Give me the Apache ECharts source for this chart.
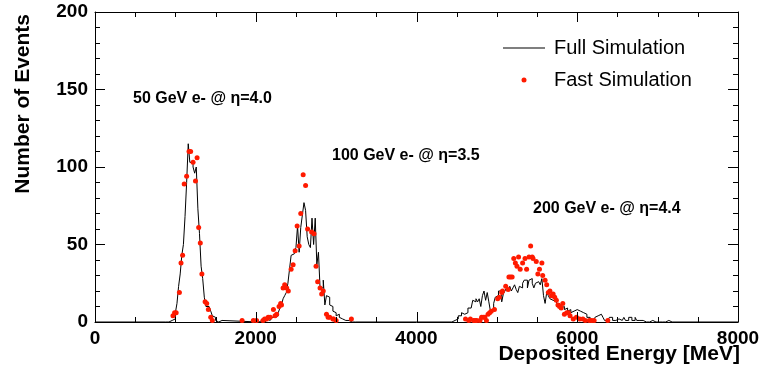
<!DOCTYPE html>
<html><head><meta charset="utf-8">
<script src="https://cdn.jsdelivr.net/npm/echarts@6/dist/echarts.min.js"></script>
<style>html,body{margin:0;padding:0;background:#fff}#c{width:763px;height:372px}</style>
</head><body><div id="c"></div>
<script>
// ---- data ----
const binWidth = 20; // MeV
const fullStart1 = 880;
const fullCounts1 = [0,0,0,1,1,2, 6,12,23,31,43,50,68,90,115,103,103,100,96,100,73,57,36,28,16,10,10,9,7,4,3,1,0,1,1,0];
const fullStart2 = 2040;
const fullCounts2 = [0,1,1,0,1,2,1,2,3,3, 2,4,6,9,11,15,17,19,25,34, 43,44,46,48,62,45,61,69,77,72, 55,50,48,67,50,67,37,45,22,22, 27,11,17,16,11,10,7,6,4,5, 3,2,2,1,2,1,1,0,1,0];
const fullStart3 = 4440;
const fullCounts3 = [1,1,2,2,4,4,6,5,6,6, 9,9,9,14,13,15,13,15,10,17, 20,14,19,13,7,8,12,16,17,20, 20,13,18,20,22,21,23,20,22,24,
  21,19,23,22,25,27,27,22,27,28, 25,22,25,26,25,24,28,17,12,19, 17,15,14,14,13,
  12,10,12,9,10,8,9,7,8,6, 7,8,8,7,7,6,6,5,5,3, 3,1,1,1,3,4,5,5,5,3, 1,1,1,3,3,1,1,1,2,3,
  1,1,3,1,1,3,3,1,1,3, 1,1,2,1,1,0,1,0,1,1, 0,0,1,0,1,0,1,0,1,1, 0,0];

const fastE1 = [970, 990, 1010, 1050, 1070, 1090, 1110, 1140, 1170, 1190, 1220, 1250, 1270, 1290, 1310, 1330, 1370, 1390, 1410, 1440, 1460, 1830];
const fastN1 = [4, 6, 6, 19, 38, 43, 89, 94, 110, 110, 103, 91, 106, 61, 51, 31, 13, 12, 8, 3, 1, 1];
const fastE2 = [1970, 2010, 2090, 2110, 2135, 2155, 2180, 2220, 2240, 2260, 2290, 2310, 2320, 2340, 2360, 2385, 2405, 2440, 2465, 2490, 2515, 2540, 2560, 2590, 2620, 2645, 2695, 2725, 2750, 2770, 2800, 2820, 2840, 2880, 2900, 2920, 2960, 2970, 3000, 3190];
const fastN2 = [1, 1, 1, 2, 2, 3, 3, 8, 4, 5, 10, 12, 11, 22, 24, 22, 20, 34, 37, 46, 62, 49, 70, 95, 88, 60, 58, 57, 36, 26, 22, 18, 20, 5, 3, 3, 2, 2, 1, 2];
const fastE3 = [4610, 4650, 4670, 4710, 4730, 4750, 4790, 4810, 4830, 4850, 4870, 4890, 4910, 4930, 4970, 5010, 5030, 5060, 5070, 5110, 5140, 5150, 5170, 5190, 5210, 5230, 5250, 5270, 5290, 5320, 5350, 5370, 5400, 5420, 5440, 5450, 5490, 5510, 5530, 5560, 5570, 5600, 5620, 5640, 5660, 5680, 5700, 5720, 5740, 5760, 5780, 5800, 5820, 5840, 5870, 5890, 5910, 5950, 5990, 6030, 6070, 6100, 6150, 6180, 6210, 6380];
const fastN3 = [2, 1, 2, 1, 1, 1, 1, 3, 3, 3, 1, 5, 6, 7, 8, 15, 16, 19, 20, 23, 21, 29, 29, 29, 41, 38, 36, 42, 34, 38, 41, 34, 42, 49, 42, 41, 39, 31, 34, 38, 30, 27, 24, 19, 20, 17, 18, 16, 14, 11, 10, 9, 12, 5, 6, 6, 4, 2, 3, 2, 2, 1, 1, 1, 1, 1];

const xTicks = {min: 0, max: 8000, interval: 2000, minorSplit: 4};
const yTicks = {min: 0, max: 200, interval: 50, minorSplit: 5};
const annotations = ['50 GeV e- @ η=4.0', '100 GeV e- @ η=3.5', '200 GeV e- @ η=4.4'];
const xTitle = 'Deposited Energy [MeV]';
const yTitle = 'Number of Events';
const seriesNames = ['Full Simulation', 'Fast Simulation'];

// ---- build ----
const FONT = '"Liberation Sans", Arial, Helvetica, sans-serif';
function histData() {
  const pts = [[xTicks.min, 0]];
  [[fullStart1, fullCounts1], [fullStart2, fullCounts2], [fullStart3, fullCounts3]].forEach(([s, c]) => {
    c.forEach((v, i) => pts.push([s + i * binWidth, v]));
    pts.push([s + c.length * binWidth, 0]);
  });
  pts.push([xTicks.max, 0]);
  return pts;
}
function fastData() {
  const out = [];
  [[fastE1, fastN1], [fastE2, fastN2], [fastE3, fastN3]].forEach(([e, n]) => e.forEach((x, i) => out.push([x, n[i]])));
  return out;
}
// x tick positions (major + minor) along the axis, drawn inward at bottom and top edges
function xTickValues() {
  const step = xTicks.interval / xTicks.minorSplit, out = [];
  for (let v = xTicks.min; v <= xTicks.max + 1e-9; v += step) out.push([v, yTicks.min]);
  return out;
}
const black = '#000';
const labelStyle = {color: black, fontSize: 19, fontWeight: 'bold', fontFamily: FONT, margin: 7, formatter: v => String(v)};
function xAx(pos, labels) {
  return {type: 'value', position: pos, min: xTicks.min, max: xTicks.max, interval: xTicks.interval,
    axisLine: {show: true, onZero: false, lineStyle: {color: black, width: 1}},
    axisTick: {show: false}, minorTick: {show: false},
    splitLine: {show: false}, minorSplitLine: {show: false},
    axisLabel: Object.assign({show: labels}, labelStyle)};
}
function yAx(pos, labels) {
  return {type: 'value', position: pos, min: yTicks.min, max: yTicks.max, interval: yTicks.interval,
    axisLine: {show: true, onZero: false, lineStyle: {color: black, width: 1}},
    axisTick: {show: true, inside: false, length: -10, lineStyle: {color: black, width: 1}},
    minorTick: {show: true, splitNumber: yTicks.minorSplit, length: -5, lineStyle: {color: black, width: 1}},
    splitLine: {show: false}, minorSplitLine: {show: false},
    axisLabel: Object.assign({show: labels}, labelStyle)};
}
const chart = echarts.init(document.getElementById('c'), null, {renderer: 'canvas'});
chart.setOption({
  animation: false,
  backgroundColor: '#fff',
  grid: {show: false, left: 95, right: 25, top: 12, bottom: 50},
  xAxis: [xAx('bottom', true), xAx('top', false)],
  yAxis: [yAx('left', true), yAx('right', false)],
  legend: {orient: 'vertical', left: 498, top: 33, itemWidth: 42, itemHeight: 5, itemGap: 12,
    textStyle: {fontSize: 20, color: black, fontFamily: FONT, padding: [0, 0, 0, 4]},
    data: [{name: seriesNames[0], icon: 'path://M0,0 L42,0 L42,1 L0,1 Z', itemStyle: {color: black}},
           {name: seriesNames[1], icon: 'circle'}]},
  series: [
    {name: seriesNames[0], type: 'line', step: 'end', data: histData(), showSymbol: false, symbol: 'none',
      lineStyle: {color: black, width: 1}, itemStyle: {color: black}, z: 2, clip: true},
    {name: seriesNames[1], type: 'scatter', data: fastData(), symbol: 'circle', symbolSize: 5,
      itemStyle: {color: '#ff1a00', opacity: 1}, z: 3},
    {name: 'xticks', type: 'custom', silent: true, clip: false, z: 4, data: xTickValues(),
      encode: {x: 0, y: 1},
      renderItem: function (params, api) {
        const v = api.value(0);
        const len = (Math.abs(v % xTicks.interval) < 1e-6) ? 10 : 5;
        const b = api.coord([v, yTicks.min]);
        const t = api.coord([v, yTicks.max]);
        const x = Math.round(b[0]) + 0.5;
        const st = {stroke: black, lineWidth: 1};
        return {type: 'group', children: [
          {type: 'line', shape: {x1: x, y1: b[1], x2: x, y2: b[1] - len}, style: st},
          {type: 'line', shape: {x1: x, y1: t[1], x2: x, y2: t[1] + len}, style: st}
        ]};
      }}
  ],
  graphic: [
    {type: 'text', left: 133, top: 91, style: {text: annotations[0], font: 'bold 16px ' + FONT, fill: black}},
    {type: 'text', left: 332, top: 148, style: {text: annotations[1], font: 'bold 16px ' + FONT, fill: black}},
    {type: 'text', left: 533, top: 201, style: {text: annotations[2], font: 'bold 16px ' + FONT, fill: black}},
    {type: 'text', right: 23, top: 344, style: {text: xTitle, font: 'bold 21px ' + FONT, fill: black}},
    {type: 'text', x: 23, y: 14, rotation: Math.PI / 2,
      style: {text: yTitle, font: 'bold 21px ' + FONT, fill: black, textAlign: 'right', textVerticalAlign: 'middle'}}
  ]
});
</script>
</body></html>
